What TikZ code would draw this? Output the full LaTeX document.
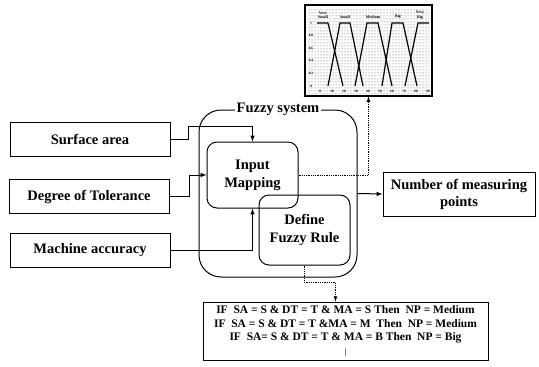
\documentclass[tikz,border=0pt]{standalone}
\usepackage{fontspec}
\setmainfont{Liberation Serif}
\usetikzlibrary{arrows,calc,positioning,patterns}

\begin{document}
\begin{tikzpicture}[x=1pt, y=-1pt, >=latex, font=\bfseries,
    inbox/.style={draw, line width=1pt, minimum width=160pt, minimum height=34pt, font=\fontsize{14.5}{17}\selectfont\bfseries},
    stepbox/.style={draw, line width=1pt, rounded corners=10pt, align=center, minimum width=91pt, font=\fontsize{14.5}{18}\selectfont\bfseries},
    link/.style={->, line width=1pt},
    dotlink/.style={->, densely dotted, line width=0.8pt},
    ticklab/.style={font=\fontsize{3.5}{4}\selectfont\bfseries, inner sep=0.5pt},
    mflab/.style={font=\fontsize{4}{4.5}\selectfont\bfseries, align=center, inner sep=0.5pt}]
    \useasboundingbox (0,0) rectangle (539,367);

    % Inputs
    \node[inbox] (sa) at (90,139) {Surface area};
    \node[inbox] (dt) at (89,196.5) {Degree of Tolerance};
    \node[inbox] (ma) at (90,250.5) {Machine accuracy};

    % Fuzzy system block
    \node[draw, line width=1pt, rounded corners=22pt, minimum width=158pt, minimum height=167pt] (fuzzy) at (278,193.5) {};
    \node[fill=white, inner sep=2pt, font=\fontsize{14.5}{17}\selectfont\bfseries] (fslab) at (fuzzy.north) {Fuzzy system};
    \node[stepbox, minimum height=66pt] (im) at (252.5,175) {Input\\Mapping};
    \node[stepbox, minimum height=70pt] (dr) at (304.5,230) {Define\\Fuzzy Rule};

    % Output
    \node[draw, line width=1pt, minimum width=152pt, minimum height=44pt, align=center, font=\fontsize{14.5}{17}\selectfont\bfseries] (np) at (459,194) {Number of measuring\\points};

    % Membership function chart
    \node[draw, line width=1.2pt, minimum width=127pt, minimum height=91pt] (chart) at (368.5,50.5) {};
    \fill[pattern=dots, pattern color=black!70] (308,8) rectangle (429,94);
    \foreach \lab/\yy [count=\i] in {1/23, 0.8/35.6, 0.6/48.2, 0.4/60.8, 0.2/73.4, 0/86}
        \node[ticklab] (yt\i) at (311,\yy) {\lab};
    \foreach \lab [count=\i from 0] in {0,10,...,90}
        \node[ticklab] (xt\i) at ({320+12*\i},91) {\lab};
    \draw[line width=1.2pt] (317,23) -- (328,23) -- (343,86);
    \draw[line width=1.2pt] (328,86) -- (340,23) -- (350,23) -- (363,86);
    \draw[line width=1.2pt] (355,86) -- (367,23) -- (378,23) -- (392,86);
    \draw[line width=1.2pt] (382,86) -- (392,23) -- (403,23) -- (417,86);
    \draw[line width=1.2pt] (405,86) -- (418,23) -- (429,23);
    \node[mflab] (vs) at (323,15) {Very\\Small};
    \node[mflab] (sm) at (345,17) {Small};
    \node[mflab] (md) at (373,17) {Medium};
    \node[mflab] (bg) at (398,17) {Big};
    \node[mflab] (vb) at (420,15) {Very\\Big};

    % Rule base
    \node[draw, line width=1pt, minimum width=285pt, minimum height=58pt, align=center, font=\fontsize{11.5}{13.5}\selectfont\bfseries] (rules) at (345.5,331)
        {IF\ \ SA = S \& DT = T \& MA = S Then\ \ NP = Medium\\
         IF\ \ SA = S \& DT = T \&MA = M\ \ Then\ \ NP = Medium\\
         IF\ \ SA= S \& DT = T \& MA = B Then\ \ NP = Big\\
         {\fontsize{8}{8}\selectfont\textbar}};

    % Connections
    \coordinate (sa1) at (188,126);
    \draw[link] (sa.east) -| (sa1) -| (im.north);
    \draw[link] (dt.east) -- ++(20,0) |- (im.west);
    \draw[link] (ma.east) -| (im.south);
    \draw[link] (fuzzy.east) -- (np.west);
    \draw[dotlink] (im.east) -| (chart.south);
    \draw[dotlink] (dr.south) -- ++(0,17) -| ([xshift=-10pt]rules.north);
\end{tikzpicture}
\end{document}
